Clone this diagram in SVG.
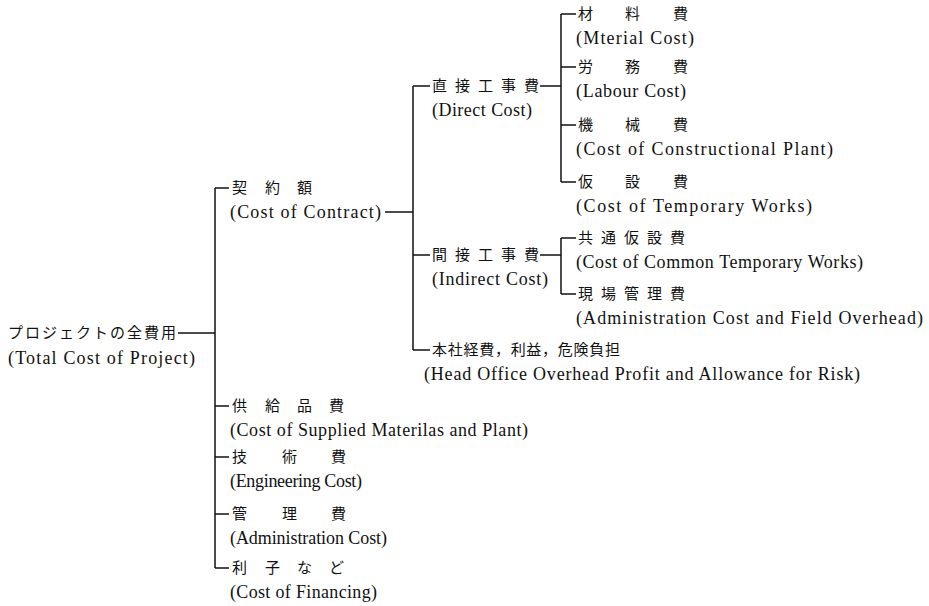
<svg xmlns="http://www.w3.org/2000/svg" width="929" height="606" viewBox="0 0 929 606">
<style>
.j{font-family:"Noto Sans CJK JP","Noto Sans CJK SC",sans-serif;font-size:15px;fill:#111}
.e{font-family:"Liberation Serif",serif;font-size:18px;fill:#111}
.c line{stroke:#111;stroke-width:1.5;fill:none}
</style>
<rect width="929" height="606" fill="#fff"/>
<g class="c" id="connectors">
<line x1="178" y1="333" x2="215" y2="333"/>
<line x1="215" y1="188" x2="215" y2="568"/>
<line x1="215" y1="188" x2="229" y2="188"/>
<line x1="215" y1="406" x2="229" y2="406"/>
<line x1="215" y1="457" x2="229" y2="457"/>
<line x1="215" y1="514" x2="229" y2="514"/>
<line x1="215" y1="568" x2="229" y2="568"/>
<line x1="385" y1="212" x2="413" y2="212"/>
<line x1="413" y1="86" x2="413" y2="350"/>
<line x1="413" y1="86" x2="430" y2="86"/>
<line x1="413" y1="255" x2="430" y2="255"/>
<line x1="413" y1="350" x2="430" y2="350"/>
<line x1="540" y1="86" x2="561" y2="86"/>
<line x1="561" y1="14" x2="561" y2="182"/>
<line x1="561" y1="14" x2="576" y2="14"/>
<line x1="561" y1="67" x2="576" y2="67"/>
<line x1="561" y1="125" x2="576" y2="125"/>
<line x1="561" y1="182" x2="576" y2="182"/>
<line x1="540" y1="255" x2="561" y2="255"/>
<line x1="561" y1="238" x2="561" y2="294"/>
<line x1="561" y1="238" x2="576" y2="238"/>
<line x1="561" y1="294" x2="576" y2="294"/>
</g>
<g id="root"><text class="j" x="8" y="338" textLength="168" lengthAdjust="spacing">プロジェクトの全費用</text><text class="e" x="8" y="364" textLength="187">(Total Cost of Project)</text></g>
<g id="contract"><text class="j" x="232 265 297" y="193">契約額</text><text class="e" x="230" y="218" textLength="151">(Cost of Contract)</text></g>
<g id="direct"><text class="j" x="432 455 478 501 524" y="91">直接工事費</text><text class="e" x="432" y="116" textLength="100">(Direct Cost)</text></g>
<g id="material"><text class="j" x="578 625 673" y="19">材料費</text><text class="e" x="576" y="44" textLength="118">(Mterial Cost)</text></g>
<g id="labour"><text class="j" x="578 625 673" y="72">労務費</text><text class="e" x="576" y="97" textLength="110">(Labour Cost)</text></g>
<g id="plant"><text class="j" x="578 625 673" y="130">機械費</text><text class="e" x="576" y="155" textLength="257">(Cost of Constructional Plant)</text></g>
<g id="temporary"><text class="j" x="578 625 673" y="187">仮設費</text><text class="e" x="576" y="212" textLength="236">(Cost of Temporary Works)</text></g>
<g id="indirect"><text class="j" x="432 455 478 501 524" y="260">間接工事費</text><text class="e" x="432" y="285" textLength="116">(Indirect Cost)</text></g>
<g id="common"><text class="j" x="578 601 624 647 670" y="243">共通仮設費</text><text class="e" x="576" y="268" textLength="287">(Cost of Common Temporary Works)</text></g>
<g id="field"><text class="j" x="578 601 624 647 670" y="299">現場管理費</text><text class="e" x="576" y="324" textLength="347">(Administration Cost and Field Overhead)</text></g>
<g id="headoffice"><text class="j" x="432" y="355" textLength="188" lengthAdjust="spacing">本社経費，利益，危険負担</text><text class="e" x="424" y="380" textLength="436">(Head Office Overhead Profit  and Allowance for Risk)</text></g>
<g id="supplied"><text class="j" x="232 265 297 329" y="411">供給品費</text><text class="e" x="230" y="436" textLength="298">(Cost of Supplied Materilas and Plant)</text></g>
<g id="engineering"><text class="j" x="232 282 331" y="462">技術費</text><text class="e" x="230" y="487" textLength="132">(Engineering Cost)</text></g>
<g id="administration"><text class="j" x="232 282 331" y="519">管理費</text><text class="e" x="230" y="544" textLength="157">(Administration Cost)</text></g>
<g id="financing"><text class="j" x="232 265 297 329" y="573">利子など</text><text class="e" x="230" y="598" textLength="147">(Cost of Financing)</text></g>
</svg>
